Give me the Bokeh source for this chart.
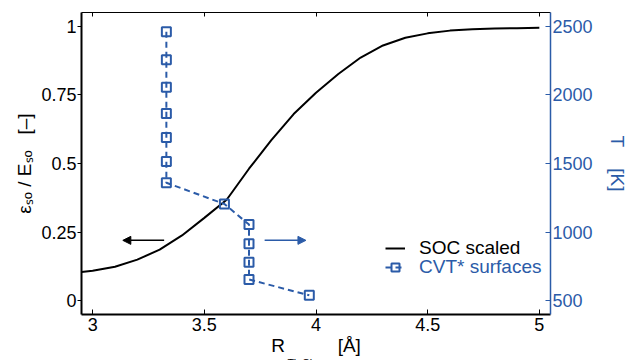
import math
from bokeh.plotting import figure
from bokeh.models import (Range1d, LinearAxis, FixedTicker, NumeralTickFormatter, Label,
                          Legend, LegendItem, Arrow, NormalHead)
from bokeh.embed import file_html
from bokeh.resources import INLINE

# ---------------- data ----------------
r_soc = [2.95, 3.0, 3.1, 3.2, 3.3, 3.4, 3.5, 3.6, 3.7, 3.8, 3.9, 4.0, 4.1, 4.2,
         4.3, 4.4, 4.5, 4.6, 4.7, 4.8, 4.9, 5.0]
soc_scaled = [0.105, 0.109, 0.124, 0.150, 0.186, 0.238, 0.302, 0.368, 0.481, 0.585,
              0.680, 0.758, 0.826, 0.886, 0.930, 0.958, 0.974, 0.984, 0.989, 0.992,
              0.993, 0.994]

r_cvt = [3.33, 3.33, 3.33, 3.33, 3.33, 3.33, 3.33, 3.59, 3.70, 3.70, 3.70, 3.70, 3.97]
t_cvt = [2460, 2255, 2055, 1865, 1690, 1515, 1360, 1205, 1055, 915, 780, 655, 540]

x_ticks = [3, 3.5, 4, 4.5, 5]
left_ticks = [0, 0.25, 0.5, 0.75, 1]
right_ticks = [500, 1000, 1500, 2000, 2500]

arrow_y = 0.22
arrow_soc_x = [3.32, 3.135]
arrow_cvt_x = [3.77, 3.955]

NB = "\u00a0"
left_title = "\u03b5\u209b\u2092 / E\u209b\u2092" + NB * 3 + "[\u2013]"
right_title = "T" + NB * 4 + "[K]"
bottom_title = "R" + NB * 10 + "[\u00c5]"
bottom_sub = "Ti\u2013Cl"

# ---------------- style ----------------
BLUE = "#2b5ba8"
FONT = "Liberation Sans"

p = figure(width=630, height=360, x_range=Range1d(2.95, 5.05), y_range=Range1d(-0.05, 1.05),
           output_backend="svg", toolbar_location=None,
           x_axis_location=None, y_axis_location=None,
           min_border_left=81, min_border_right=77, min_border_top=12, min_border_bottom=46,
           outline_line_color=None, background_fill_color="white", border_fill_color="white")
p.grid.visible = False
p.extra_y_ranges = {"T": Range1d(400, 2600)}

common = dict(major_label_text_font=FONT, major_label_text_font_size="18px",
              minor_tick_line_color=None, axis_label_text_font=FONT,
              axis_label_text_font_size="19px", axis_label_text_font_style="normal")

xaxis = LinearAxis(ticker=FixedTicker(ticks=x_ticks), formatter=NumeralTickFormatter(format="0.[00]"),
                   axis_line_width=2, major_tick_in=5, major_tick_out=0, major_label_standoff=3,
                   major_label_text_color="black", axis_label=bottom_title,
                   axis_label_standoff=1, axis_label_text_color="black", **common)
p.add_layout(xaxis, "below")

top = LinearAxis(ticker=FixedTicker(ticks=x_ticks), axis_line_width=1, major_tick_in=4,
                 major_tick_out=0, major_label_standoff=0, major_label_text_font_size="0px",
                 minor_tick_line_color=None, major_label_text_alpha=0)
p.add_layout(top, "above")

yaxis = LinearAxis(ticker=FixedTicker(ticks=left_ticks), formatter=NumeralTickFormatter(format="0.[00]"),
                   axis_line_width=2, major_tick_in=0, major_tick_out=4, major_label_standoff=1,
                   major_label_text_color="black", axis_label=left_title,
                   axis_label_standoff=3, axis_label_text_color="black", **common)
p.add_layout(yaxis, "left")

raxis = LinearAxis(y_range_name="T", ticker=FixedTicker(ticks=right_ticks),
                   axis_line_color=BLUE, axis_line_width=1.5, major_tick_line_color=BLUE,
                   major_tick_in=5, major_tick_out=0, major_label_standoff=2,
                   major_label_text_color=BLUE, axis_label=right_title,
                   axis_label_standoff=11, axis_label_text_color=BLUE, **common)
p.add_layout(raxis, "right")

# ---------------- glyphs ----------------
soc = p.line(r_soc, soc_scaled, line_color="black", line_width=2)
cvt_line = p.line(r_cvt, t_cvt, y_range_name="T", line_color=BLUE, line_width=2, line_dash="6 4")
cvt_pts = p.scatter(r_cvt, t_cvt, y_range_name="T", marker="square", size=9,
                    line_color=BLUE, line_width=2, fill_color=None)

# ---------------- arrows ----------------
p.add_layout(Arrow(end=NormalHead(size=8, fill_color="black", line_color="black", line_width=1),
                   x_start=arrow_soc_x[0], y_start=arrow_y, x_end=arrow_soc_x[1], y_end=arrow_y,
                   line_color="black", line_width=1.5))
p.add_layout(Arrow(end=NormalHead(size=8, fill_color=BLUE, line_color=BLUE, line_width=1),
                   x_start=arrow_cvt_x[0], y_start=arrow_y, x_end=arrow_cvt_x[1], y_end=arrow_y,
                   line_color=BLUE, line_width=1.5))

# ---------------- legends ----------------
leg_style = dict(border_line_color=None, background_fill_alpha=0, padding=0, margin=0,
                 glyph_width=20, glyph_height=20, label_height=20, label_standoff=14,
                 label_text_font=FONT, label_text_font_size="19px", spacing=0)
leg1 = Legend(items=[LegendItem(label="SOC scaled", renderers=[soc])], location=(304, 55),
              label_text_color="black", **leg_style)
leg2 = Legend(items=[LegendItem(label="CVT* surfaces", renderers=[cvt_line, cvt_pts])],
              location=(304, 36), label_text_color=BLUE, **leg_style)
p.add_layout(leg1)
p.add_layout(leg2)

# subscript of the x-axis title (canvas coordinates, side panel => not clipped)
p.add_layout(Label(text=bottom_sub, x=287, y=362, x_units="canvas", y_units="canvas",
                   text_font=FONT, text_font_size="10.7px", text_color="black",
                   text_align="left", text_baseline="alphabetic"), "above")

open("out.html", "w").write(file_html(p, INLINE))
